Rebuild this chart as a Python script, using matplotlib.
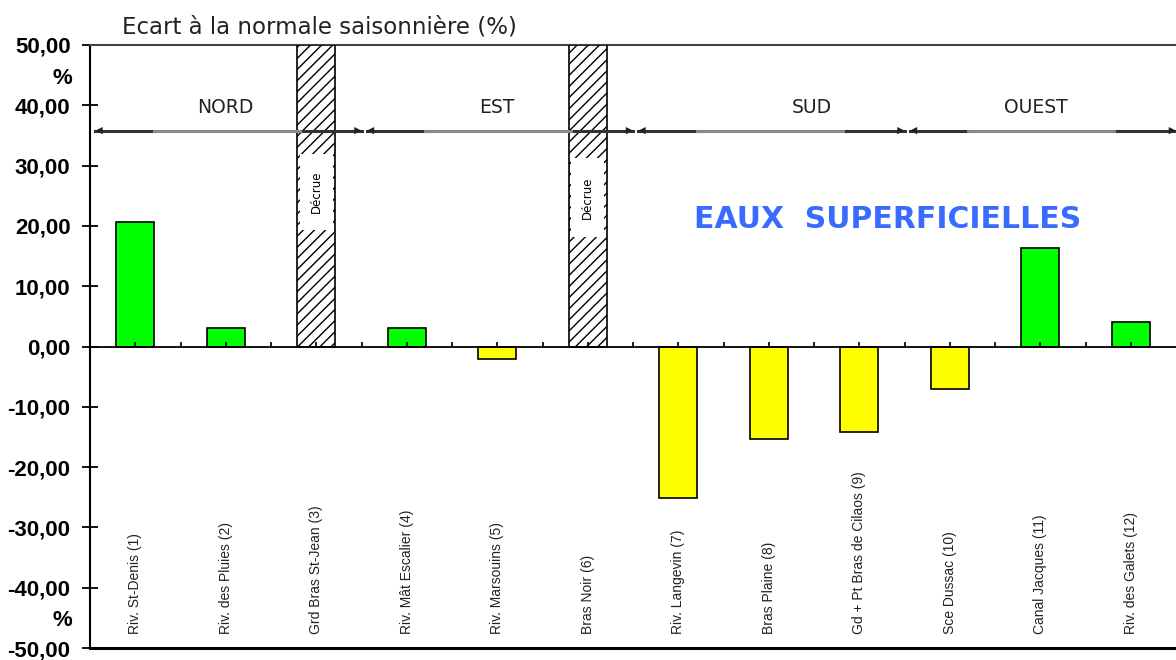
import numpy as np
import matplotlib
matplotlib.use("Agg")
import matplotlib.pyplot as plt
import matplotlib.patches as patches

# stations (x axis) and deviation from seasonal normal (%)
stations = ["Riv. St-Denis (1)", "Riv. des Pluies (2)", "Grd Bras St-Jean (3)",
            "Riv. Mât Escalier (4)", "Riv. Marsouins (5)", "Bras Noir (6)",
            "Riv. Langevin (7)", "Bras Plaine (8)", "Gd + Pt Bras de Cilaos (9)",
            "Sce Dussac (10)", "Canal Jacques (11)", "Riv. des Galets (12)"]
ecart = [20.6, 3.0, np.nan, 3.0, -2.0, np.nan, -25.2, -15.4, -14.1, -7.0, 16.3, 4.0]
decrue = [2, 5]  # stations in recession (hatched)

# regions: name, first station, last station
regions = ["NORD", "EST", "SUD", "OUEST"]
region_first = [0, 3, 6, 9]
region_last = [2, 5, 8, 11]

yticks = np.arange(-50, 51, 10)

fig = plt.figure(figsize=(11.76, 6.6), dpi=100, facecolor='white')
ax = fig.add_axes([90 / 1176, 12 / 660, 1 - 90 / 1176, 603 / 660])
x = np.arange(len(stations))
ax.set_xlim(-0.5, len(stations) - 0.5)
ax.set_ylim(-50, 50)

# bars
colors = ['#00FF00' if v >= 0 else '#FFFF00' for v in np.nan_to_num(ecart)]
ax.bar(x, np.nan_to_num(ecart), width=0.42, color=colors, edgecolor='black', linewidth=1.2, zorder=3)

# recession bars (hatched, full height) with white label box
box_lo = [19.4, 18.1]
box_hi = [32.0, 31.2]
for k, i in enumerate(decrue):
    ax.bar(i, 50, width=0.42, color='white', edgecolor='black', hatch='///',
           linewidth=1.2, zorder=3)
    ax.add_patch(patches.Rectangle((i - 0.18, box_lo[k]), 0.36, box_hi[k] - box_lo[k],
                                   facecolor='white', edgecolor='none', zorder=4))
    ax.text(i, (box_lo[k] + box_hi[k]) / 2, "Décrue", rotation=90, ha='center', va='center',
            fontsize=8.5, zorder=5)

# zero line with small ticks
ax.axhline(0, color='black', lw=1.3, zorder=4)
small = np.concatenate([x, x[:-1] + 0.5])
ax.vlines(small, 0, 0.7, color='black', lw=1.2, zorder=4)

# region arrows
arrow_y = 35.8
label_x = [1.0, 4.0, 7.48, 9.95]
for name, a, b, lx in zip(regions, region_first, region_last, label_x):
    x0 = a - 0.5 + 0.06
    x1 = b + 0.5
    L = x1 - x0
    ax.plot([x0, x0 + 0.22 * L], [arrow_y, arrow_y], color='#333333', lw=2.2, zorder=6)
    ax.plot([x0 + 0.22 * L, x1 - 0.22 * L], [arrow_y, arrow_y], color='#8a8a8a', lw=2.2, zorder=6)
    ax.plot([x1 - 0.22 * L, x1], [arrow_y, arrow_y], color='#333333', lw=2.2, zorder=6)
    ax.annotate('', xy=(x1, arrow_y), xytext=(x0, arrow_y),
                arrowprops=dict(arrowstyle='<|-|>', color='#222222', lw=0.01,
                                mutation_scale=13, shrinkA=0, shrinkB=0), zorder=6)
    ax.text(lx, 39.6, name, ha='center', va='center', fontsize=13.5, color='#222222')

ax.text(8.31, 21.1, "EAUX  SUPERFICIELLES", ha='center', va='center', fontsize=21.5,
        fontweight='bold', color='#3A6BFF')

# station labels
for i, s in enumerate(stations):
    ax.text(i, -47.6, s, rotation=90, ha='center', va='bottom', fontsize=10, color='#222222',
            family=['Liberation Sans', 'DejaVu Sans'])

# axes styling
ax.set_xticks([])
ax.set_yticks(yticks)
ax.set_yticklabels([f"{v:.2f}".replace('.', ',') for v in yticks],
                   fontfamily=['Liberation Sans', 'DejaVu Sans'],
                   fontweight='bold', fontsize=16)
ax.tick_params(axis='y', direction='inout', length=12, width=1.3, pad=8)
ax.spines['right'].set_visible(False)
ax.spines['left'].set_linewidth(1.5)
ax.spines['bottom'].set_linewidth(2.2)
ax.spines['top'].set_linewidth(1.5)
ax.spines['top'].set_color('#444444')

fig.text(62 / 1176, 1 - 78 / 660, "%", ha='center', va='center', fontsize=16, fontweight='bold',
         family=['Liberation Sans', 'DejaVu Sans'])
fig.text(62 / 1176, 1 - 620 / 660, "%", ha='center', va='center', fontsize=16, fontweight='bold',
         family=['Liberation Sans', 'DejaVu Sans'])
fig.text(122 / 1176, 1 - 27 / 660, "Ecart à la normale saisonnière (%)", ha='left', va='center',
         fontsize=16.5, color='#222222')

fig.savefig("out.png", dpi=100, facecolor='white')
